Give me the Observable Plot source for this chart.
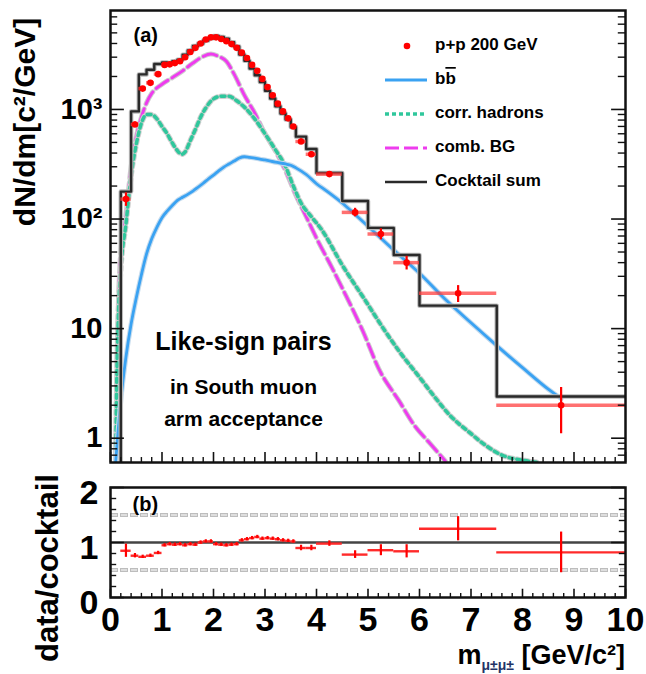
<!DOCTYPE html>
<html><head><meta charset="utf-8">
<script src="https://cdn.jsdelivr.net/npm/d3@7"></script>
<script src="https://cdn.jsdelivr.net/npm/@observablehq/plot@0.6"></script>
<style>
body{margin:0;background:#fff;}
#wrap{position:relative;width:646px;height:674px;overflow:hidden;font-family:"Liberation Sans",Arial,sans-serif;background:#fff;}
#wrap svg{position:absolute;left:0;}
</style></head><body><div id="wrap"></div>
<script>
// ---------- data ----------
const binLo = [0.2,0.4,0.55,0.7,0.85,
  1.0,1.1,1.2,1.3,1.4,1.5,1.6,1.7,1.8,1.9,2.0,2.1,2.2,2.3,2.4,2.5,2.6,2.7,2.8,2.9,3.0,3.1,3.2,3.3,3.4,3.5,
  3.6,3.8,4.0,4.5,5.0,5.5,6.0,7.5];
const binHi = [0.4,0.55,0.7,0.85,1.0,
  1.1,1.2,1.3,1.4,1.5,1.6,1.7,1.8,1.9,2.0,2.1,2.2,2.3,2.4,2.5,2.6,2.7,2.8,2.9,3.0,3.1,3.2,3.3,3.4,3.5,3.6,
  3.8,4.0,4.5,5.0,5.5,6.0,7.5,10];
const dataVal = [152,730,1550,1750,2100,
  2550,2580,2650,2750,3000,3350,3650,4000,4350,4550,4550,4400,4200,3950,3650,3300,2950,2550,2250,1900,1600,1350,1130,960,830,700,
  510,390,257,115,73,40,21,2.0];
const cocktailVal = [178,960,2090,2300,2600,
  2680,2660,2760,2840,3160,3450,3800,4000,4260,4460,4690,4580,4420,4110,3760,3170,2780,2360,2050,1780,1480,1260,1070,920,810,690,
  565,435,263,146,83,47,16.2,2.4];
const ratioVal = [0.85,0.76,0.74,0.76,0.81,
  0.95,0.97,0.96,0.97,0.95,0.97,0.96,1.0,1.02,1.02,0.97,0.96,0.95,0.96,0.97,1.04,1.06,1.08,1.1,1.07,1.08,1.07,1.06,1.04,1.03,1.02,
  0.9,0.9,0.98,0.78,0.86,0.84,1.25,0.82];
const ratioErr = [0.12,0.04,0.03,0.03,0.03,
  0.03,0.03,0.03,0.03,0.03,0.03,0.03,0.03,0.03,0.03,0.03,0.03,0.03,0.03,0.03,0.03,0.03,0.03,0.03,0.03,0.03,0.03,0.03,0.03,0.03,0.03,
  0.05,0.05,0.05,0.07,0.1,0.12,0.22,0.37];

// b-bbar curve
const bbM = [0.1,0.15,0.2,0.3,0.4,0.5,0.6,0.7,0.8,0.9,1.0,1.1,1.2,1.3,1.4,1.5,1.6,1.7,1.8,1.9,2.0,2.1,2.2,2.3,2.4,2.5,2.6,2.7,2.8,2.9,3.0,3.2,3.4,3.5,3.6,3.8,4.0,4.2,4.5,4.75,5.0,5.5,6.0,6.5,7.0,7.5,8.0,8.5,8.75];
const bbV = [0.6,1.2,2.2,5.5,11,19,31,48,66,84,103,118,133,148,158,168,180,195,212,232,252,275,298,318,338,360,370,365,360,352,346,330,318,310,293,255,210,180,140,110,86,52,32,18.5,11.3,7,4.4,2.8,2.3];
// correlated hadrons curve
const hadM = [0.1,0.12,0.15,0.2,0.3,0.4,0.5,0.6,0.7,0.8,0.9,1.0,1.1,1.2,1.3,1.38,1.45,1.55,1.65,1.75,1.85,2.0,2.15,2.3,2.45,2.6,2.8,3.0,3.2,3.4,3.55,3.7,3.9,4.1,4.5,4.95,5.3,5.63,6.0,6.3,6.6,6.97,7.3,7.6,8.0,8.3];
const hadV = [0.6,3,12,35,90,250,480,750,900,900,820,700,600,495,420,390,410,520,660,850,1030,1250,1320,1320,1200,1050,820,600,430,300,200,140,105,80,38,18,10,6,3.6,2.36,1.6,1.13,0.85,0.7,0.63,0.6];
// combinatorial background curve
const bgM = [0.1,0.12,0.15,0.2,0.3,0.4,0.5,0.6,0.7,0.8,1.0,1.2,1.4,1.6,1.8,1.95,2.1,2.25,2.4,2.6,2.8,3.0,3.2,3.4,3.6,3.8,4.0,4.3,4.55,4.9,5.22,5.6,5.9,6.2,6.5];
const bgV = [0.6,3,15,50,110,300,560,850,1150,1400,1700,1950,2250,2650,3050,3200,3050,2750,2100,1350,930,600,420,275,165,105,67,36,21,9.5,4.2,2.2,1.31,0.9,0.62];

// tick positions / labels
const xMajor = [0,1,2,3,4,5,6,7,8,9,10];
const yTopLabels = [1,10,100,1000];
const yTopText = ["1","10","10²","10³"];
const yBotMajor = [0,1,2];

// ---------- derived tables ----------
const pts = binLo.map((lo,i)=>({lo, hi:binHi[i], m:(lo+binHi[i])/2, v:dataVal[i], c:cocktailVal[i], r:ratioVal[i], re:ratioErr[i]}));
const step = [{m:binLo[0], v:0.3}];
pts.forEach(p=>{step.push({m:p.lo,v:p.c}); step.push({m:p.hi,v:p.c});});
const bb = bbM.map((m,i)=>({m, v:bbV[i]}));
const had = hadM.map((m,i)=>({m, v:hadV[i]}));
const bg = bgM.map((m,i)=>({m, v:bgV[i]}));

const xMinor = d3.range(0,10.001,0.2).filter(d=>Math.abs(d-Math.round(d))>1e-6);
const yTopMinor = [];
for (const dec of [0.1,1,10,100,1000]) for (let k=2;k<=9;k++){const v=dec*k; if(v>0.61 && v<8000) yTopMinor.push(v);}
const yBotMinor = d3.range(0,2.001,0.2).filter(d=>Math.abs(d-Math.round(d))>1e-6);

const FONT = '"Liberation Sans", Arial, sans-serif';
const BLUE = "#3aa2f2", GREEN = "#2fc79c", MAG = "#ee3cee", HIST = "#2a2a2a";

// ---------- top panel ----------
const topPlot = Plot.plot({
  width:646, height:475, marginLeft:110, marginRight:21, marginTop:10, marginBottom:13,
  style:{fontFamily:FONT, background:"transparent", overflow:"visible"},
  x:{domain:[0,10], axis:null},
  y:{type:"log", domain:[0.6,8000], axis:null},
  marks:[
    // curves (halo + colour)
    Plot.line(bg, {x:"m", y:"v", stroke:"#cfcfcf", strokeWidth:5, strokeDasharray:"14,5", curve:"monotone-x", clip:true}),
    Plot.line(bg, {x:"m", y:"v", stroke:MAG, strokeWidth:3, strokeDasharray:"14,5", curve:"monotone-x", clip:true}),
    Plot.line(had, {x:"m", y:"v", stroke:"#cfcfcf", strokeWidth:5.5, strokeDasharray:"4,4", curve:"monotone-x", clip:true}),
    Plot.line(had, {x:"m", y:"v", stroke:GREEN, strokeWidth:3.5, strokeDasharray:"4,4", curve:"monotone-x", clip:true}),
    Plot.line(bb, {x:"m", y:"v", stroke:"#c6dcee", strokeWidth:5, curve:"monotone-x", clip:true}),
    Plot.line(bb, {x:"m", y:"v", stroke:BLUE, strokeWidth:2.8, curve:"monotone-x", clip:true}),
    // cocktail histogram
    Plot.line(step, {x:"m", y:"v", stroke:"#bbbbbb", strokeWidth:4.5, clip:true}),
    Plot.line(step, {x:"m", y:"v", stroke:HIST, strokeWidth:2.4, clip:true}),
    // data
    Plot.ruleY(pts, {y:"v", x1:"lo", x2:"hi", stroke:"#ff4040", strokeOpacity:0.75, strokeWidth:3.5, clip:true}),
    Plot.ruleX(pts, {x:"m", y1:d=>Math.max(0.6,d.v*(1-d.re/d.r)), y2:d=>d.v*(1+d.re/d.r), stroke:"#ff0000", strokeWidth:2.2}),
    Plot.dot(pts, {x:"m", y:"v", r:3.3, fill:"#ff0000", stroke:"none"}),
    // ticks
    Plot.ruleY(yTopLabels, {y:d=>d, x1:0, x2:0.27, stroke:"#111", strokeWidth:1.6}),
    Plot.ruleY(yTopMinor, {y:d=>d, x1:0, x2:0.14, stroke:"#111", strokeWidth:1.4}),
    Plot.ruleY(yTopLabels, {y:d=>d, x1:9.73, x2:10, stroke:"#111", strokeWidth:1.6}),
    Plot.ruleY(yTopMinor, {y:d=>d, x1:9.86, x2:10, stroke:"#111", strokeWidth:1.4}),
    Plot.ruleX(xMajor, {x:d=>d, y1:0.6, y2:0.74, stroke:"#111", strokeWidth:1.6}),
    Plot.ruleX(xMinor, {x:d=>d, y1:0.6, y2:0.666, stroke:"#111", strokeWidth:1.4}),
    // y tick labels
    Plot.text(yTopLabels, {y:d=>d, text:(d,i)=>yTopText[i], frameAnchor:"left", dx:-8, textAnchor:"end", lineAnchor:"middle", fontSize:29, fontWeight:"bold", fill:"#000"}),
    // annotations
    Plot.text(["(a)"], {frameAnchor:"top-left", dx:23, dy:25, textAnchor:"start", lineAnchor:"middle", fontSize:20, fontWeight:"bold", fill:"#000"}),
    Plot.text(["Like-sign pairs"], {frameAnchor:"top-left", dx:133, dy:331, textAnchor:"middle", lineAnchor:"middle", fontSize:25, fontWeight:"bold", fill:"#000"}),
    Plot.text(["in South muon"], {frameAnchor:"top-left", dx:133, dy:377, textAnchor:"middle", lineAnchor:"middle", fontSize:21, fontWeight:"bold", fill:"#000"}),
    Plot.text(["arm acceptance"], {frameAnchor:"top-left", dx:133, dy:409, textAnchor:"middle", lineAnchor:"middle", fontSize:21, fontWeight:"bold", fill:"#000"}),
    Plot.frame({stroke:"#111", strokeWidth:2.5})
  ]
});
topPlot.style.top = "0px";

// ---------- bottom panel ----------
const botPlot = Plot.plot({
  width:646, height:197, marginLeft:110, marginRight:21, marginTop:10, marginBottom:77,
  style:{fontFamily:FONT, background:"transparent", overflow:"visible"},
  x:{domain:[0,10], axis:null},
  y:{domain:[0,2], axis:null},
  marks:[
    Plot.ruleY([0.5,1.5], {y:d=>d, stroke:"#bdbdbd", strokeWidth:4, strokeDasharray:"8,2"}),
    Plot.ruleY([0.5,1.5], {y:d=>d, stroke:"#ffffff", strokeWidth:1.2, strokeDasharray:"6,4", dx:1}),
    Plot.ruleY([1], {y:d=>d, stroke:"#444", strokeWidth:2.4}),
    Plot.ruleY(pts, {y:"r", x1:"lo", x2:"hi", stroke:"#ff2a2a", strokeWidth:2.4, clip:true}),
    Plot.ruleX(pts, {x:"m", y1:d=>d.r-d.re, y2:d=>d.r+d.re, stroke:"#ff0000", strokeWidth:2.2}),
    // ticks
    Plot.ruleY(yBotMajor, {y:d=>d, x1:0, x2:0.27, stroke:"#111", strokeWidth:1.6}),
    Plot.ruleY(yBotMinor, {y:d=>d, x1:0, x2:0.12, stroke:"#111", strokeWidth:1.4}),
    Plot.ruleY(yBotMajor, {y:d=>d, x1:9.73, x2:10, stroke:"#111", strokeWidth:1.6}),
    Plot.ruleY(yBotMinor, {y:d=>d, x1:9.88, x2:10, stroke:"#111", strokeWidth:1.4}),
    Plot.ruleX(xMajor, {x:d=>d, y1:0, y2:0.15, stroke:"#111", strokeWidth:1.6}),
    Plot.ruleX(xMinor, {x:d=>d, y1:0, y2:0.075, stroke:"#111", strokeWidth:1.4}),
    // labels
    Plot.text(yBotMajor, {y:d=>d, text:d=>String(d), frameAnchor:"left", dx:-12, dy:6, textAnchor:"end", lineAnchor:"middle", fontSize:34, fontWeight:"bold", fill:"#000"}),
    Plot.text(xMajor, {x:d=>d, text:d=>String(d), frameAnchor:"bottom", dy:23, textAnchor:"middle", lineAnchor:"middle", fontSize:34, fontWeight:"bold", fill:"#000"}),
    Plot.text(["(b)"], {frameAnchor:"top-left", dx:22, dy:17, textAnchor:"start", lineAnchor:"middle", fontSize:20, fontWeight:"bold", fill:"#000"}),
    Plot.frame({stroke:"#111", strokeWidth:2.5})
  ]
});
botPlot.style.top = "477px";

const wrap = document.getElementById("wrap");
wrap.appendChild(topPlot);
wrap.appendChild(botPlot);

// ---------- overlay: axis titles and legend ----------
const ov = d3.select(wrap).append("svg")
  .attr("width",646).attr("height",674)
  .style("top","0px").style("pointer-events","none")
  .style("font-family", FONT);

ov.append("text").attr("transform","translate(35,122) rotate(-90)")
  .attr("text-anchor","middle").attr("font-size",30).attr("font-weight","bold")
  .text("dN/dm[c²/GeV]");
ov.append("text").attr("transform","translate(58,568) rotate(-90)")
  .attr("text-anchor","middle").attr("font-size",31).attr("font-weight","bold")
  .text("data/cocktail");

const xt = ov.append("text").attr("x",625).attr("y",664).attr("text-anchor","end")
  .attr("font-size",27).attr("font-weight","bold");
xt.append("tspan").text("m");
xt.append("tspan").attr("font-size",14).attr("dy",6).attr("fill","#223366").text("μ±μ±");
xt.append("tspan").attr("dy",-6).text(" [GeV/c²]");

// legend
const lg = [
  {y:46, kind:"dot", label:"p+p 200 GeV"},
  {y:80, kind:"bb", stroke:BLUE, dash:null, w:3},
  {y:114, kind:"line", stroke:GREEN, dash:"4,3", w:3.5, label:"corr. hadrons"},
  {y:148, kind:"line", stroke:MAG, dash:"14,5", w:3, label:"comb. BG"},
  {y:182, kind:"line", stroke:HIST, dash:null, w:2.4, label:"Cocktail sum"}
];
lg.forEach(r=>{
  if (r.kind==="dot") {
    ov.append("circle").attr("cx",407).attr("cy",r.y).attr("r",3.3).attr("fill","#ff0000");
  } else {
    const ln = ov.append("line").attr("x1",385).attr("x2",427).attr("y1",r.y).attr("y2",r.y)
      .attr("stroke",r.stroke).attr("stroke-width",r.w);
    if (r.dash) ln.attr("stroke-dasharray",r.dash);
  }
  const t = ov.append("text").attr("x",435).attr("y",r.y).attr("dominant-baseline","middle")
    .attr("font-size",17).attr("font-weight","bold");
  if (r.kind==="bb") {
    t.append("tspan").text("b");
    t.append("tspan").style("text-decoration","overline").text("b");
  } else t.text(r.label);
});
</script>
</body></html>
